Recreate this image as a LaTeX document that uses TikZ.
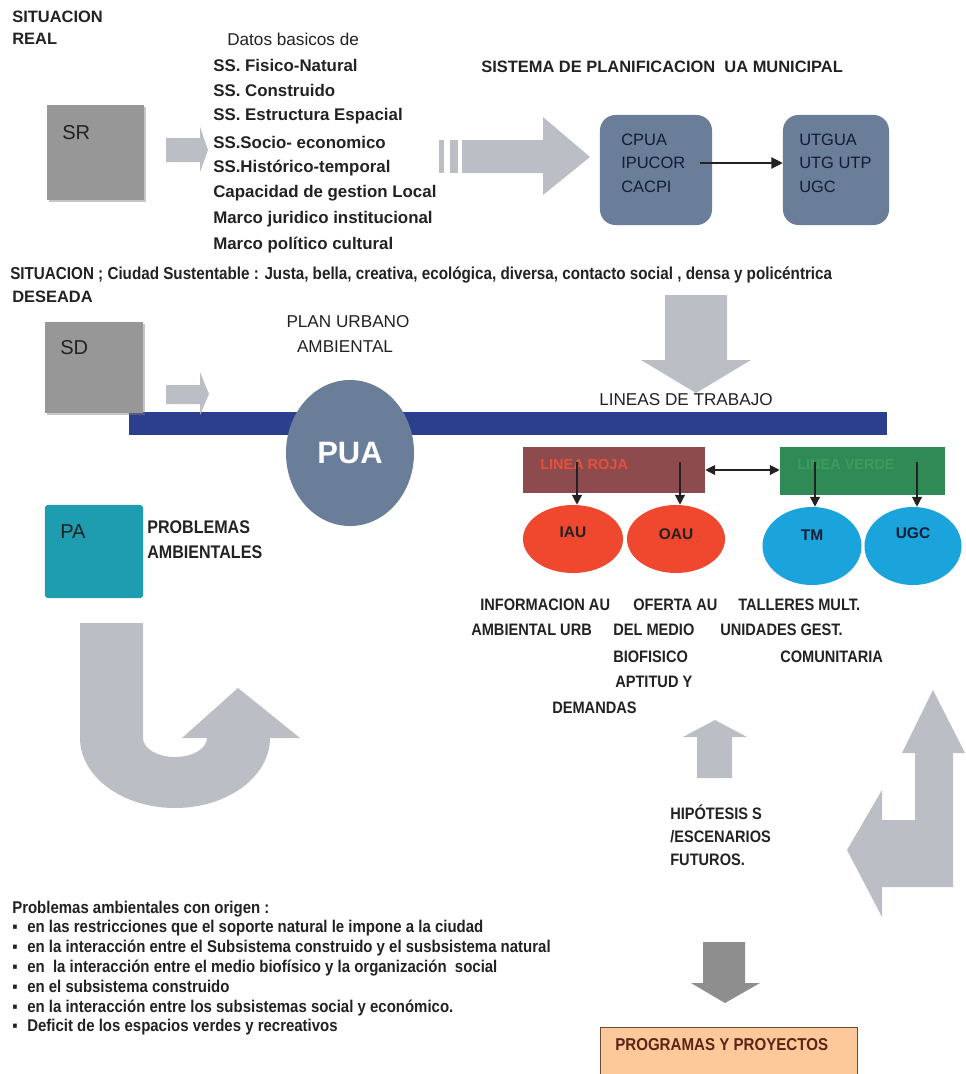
\documentclass[tikz,border=0pt]{standalone}
\usepackage{fontspec}
\setmainfont{Liberation Sans}
\newfontfamily\narrowfont[FakeStretch=0.88]{Liberation Sans}
\usepackage{xcolor}
\usetikzlibrary{arrows.meta,shapes.geometric,shadows}

\definecolor{ink}{HTML}{222222}
\definecolor{navyink}{HTML}{141C33}
\definecolor{boxgray}{HTML}{979797}
\definecolor{arrowgray}{HTML}{BBBEC4}
\definecolor{arrowdark}{HTML}{8E8E8E}
\definecolor{slate}{HTML}{6A7D99}
\definecolor{barblue}{HTML}{2B3F8E}
\definecolor{pateal}{HTML}{1E9CB0}
\definecolor{rojabox}{HTML}{8E4B4D}
\definecolor{rojaink}{HTML}{E8503C}
\definecolor{verdebox}{HTML}{2F8A55}
\definecolor{verdeink}{HTML}{3A9C5E}
\definecolor{redoval}{HTML}{F0472F}
\definecolor{blueoval}{HTML}{1BA3DC}
\definecolor{peach}{HTML}{FDC99A}
\definecolor{peachline}{HTML}{6B4A35}
\definecolor{progink}{HTML}{5A2418}

\begin{document}
\begin{tikzpicture}[x=0.025cm, y=-0.025cm, >={Triangle[length=7pt,width=7pt]},
  txt/.style={inner sep=0pt, anchor=west, text=ink},
  head/.style={txt, font=\bfseries\fontsize{11.7}{14}\selectfont},
  dato/.style={txt, font=\bfseries\fontsize{12}{14}\selectfont},
  plain/.style={txt, font=\fontsize{12.2}{14}\selectfont},
  narrow/.style={txt, font=\narrowfont\bfseries\fontsize{11.8}{14}\selectfont},
  origin/.style={txt, anchor=base west, font=\narrowfont\bfseries\fontsize{12.1}{14}\selectfont},
  tag/.style={txt, font=\fontsize{14.3}{16}\selectfont},
  codes/.style={txt, text=navyink, font=\fontsize{11.7}{14}\selectfont},
  block/.style={rectangle, inner sep=0pt, fill=boxgray,
    drop shadow={shadow xshift=1.5pt, shadow yshift=-1.5pt, opacity=.45}},
  slatebox/.style={rectangle, rounded corners=11pt, inner sep=0pt, fill=slate, minimum height=2.75cm},
  linebox/.style={rectangle, inner sep=0pt},
  oval/.style={ellipse, inner sep=0pt},
  ovaltext/.style={inner sep=0pt, text=ink, font=\bfseries\fontsize{11}{13}\selectfont},
  bigarrow/.style={fill=arrowgray},
  link/.style={->, line width=0.9pt, draw=ink}]

  \useasboundingbox (0,0) rectangle (966,1074);
  \clip (0,0) rectangle (966,1074);

  \node[head] (sitreal) at (12,17) {SITUACION};
  \node[head] (real) at (12,39) {REAL};
  \node[block, minimum width=2.425cm, minimum height=2.375cm] (sr) at (95.5,152.5) {};
  \node[tag] (srtag) at (62,133) {SR};
  \fill[bigarrow] (166,138) -- (200,138) -- (200,127) -- (208,150) -- (200,172) -- (200,162) -- (166,162) -- cycle;

  \node[plain] (datos) at (227,39) {Datos basicos de};
  \foreach \t [count=\i from 0] in {SS. Fisico-Natural, SS. Construido, SS. Estructura Espacial,
      SS.Socio- economico, SS.Histórico-temporal, Capacidad de gestion Local,
      Marco juridico institucional, Marco político cultural}
    \node[dato] (dato\i) at (213,65+25.7*\i) {\t};

  \fill[bigarrow] (439,140) rectangle (444,173);
  \fill[bigarrow] (450,140) rectangle (458,173);
  \fill[bigarrow] (462,140) -- (543,140) -- (543,117) -- (590,157) -- (543,195) -- (543,173) -- (462,173) -- cycle;

  \node[head] (sistema) at (481,67) {SISTEMA DE PLANIFICACION\ \ UA MUNICIPAL};
  \node[slatebox, minimum width=2.8cm] (cpua) at (656,170) {};
  \node[codes] (cpuatxt) at (621,140) {CPUA};
  \node[codes] (ipucor) at (621,163) {IPUCOR};
  \node[codes] (cacpi) at (621,187) {CACPI};
  \node[slatebox, minimum width=2.65cm] (utgua) at (836,170) {};
  \node[codes] (utguatxt) at (799,140) {UTGUA};
  \node[codes] (utgutp) at (799,163) {UTG UTP};
  \node[codes] (ugctxt) at (799,187) {UGC};
  \draw[link, >={Triangle[length=8pt,width=8pt]}, shorten <=10pt] (ipucor.east) -- (ipucor.east -| utgua.west);

  \node[txt, font=\narrowfont\bfseries\fontsize{12.3}{14}\selectfont] (deseo) at (10,275)
    {SITUACION ; Ciudad Sustentable : Justa, bella, creativa, ecológica, diversa, contacto social , densa y policéntrica};
  \node[head] (deseada) at (12,297) {DESEADA};

  \fill[bigarrow] (665,295) -- (727,295) -- (727,360) -- (751,360) -- (696,393) -- (641,360) -- (665,360) -- cycle;
  \node[plain, anchor=center] (lineas) at (686,400) {LINEAS DE TRABAJO};

  \node[linebox, fill=barblue, minimum width=18.95cm, minimum height=0.575cm] (barra) at (508,423.5) {};
  \node[block, minimum width=2.45cm, minimum height=2.275cm] (sd) at (94,367.5) {};
  \node[tag] (sdtag) at (60,348) {SD};
  \fill[bigarrow] (166,385) -- (200,385) -- (200,372) -- (209,394) -- (200,415) -- (200,404) -- (166,404) -- cycle;

  \node[plain, anchor=center] (plan) at (348,322) {PLAN URBANO};
  \node[plain, anchor=center] (ambiental) at (345,347) {AMBIENTAL};
  \node[ellipse, inner sep=0pt, fill=slate, minimum width=3.2cm, minimum height=3.65cm, text=white,
    font=\bfseries\fontsize{22}{24}\selectfont] (pua) at (350,453) {PUA};

  \node[linebox, fill=rojabox, minimum width=4.55cm, minimum height=1.15cm] (roja) at (614,470) {};
  \node[txt, text=rojaink, font=\bfseries\fontsize{10.3}{12}\selectfont] (rojalbl) at (540,465) {LINEA ROJA};
  \node[linebox, fill=verdebox, minimum width=4.125cm, minimum height=1.2cm] (verde) at (862.5,471) {};
  \node[txt, text=verdeink, font=\bfseries\fontsize{10.3}{12}\selectfont] (verdelbl) at (797,465) {LINEA VERDE};
  \draw[link, <->] (roja.east) -- (roja.east -| verde.west);

  \node[oval, fill=redoval, minimum width=2.5cm, minimum height=1.7cm] (iau) at (573,539) {};
  \node[oval, fill=redoval, minimum width=2.45cm, minimum height=1.7cm] (oau) at (676,539) {};
  \node[oval, fill=blueoval, minimum width=2.475cm, minimum height=1.95cm] (tm) at (812,546) {};
  \node[oval, fill=blueoval, minimum width=2.425cm, minimum height=1.95cm] (ugc) at (913,546) {};
  \node[ovaltext] (iaulbl) at (573,532) {IAU};
  \node[ovaltext] (oaulbl) at (676,534) {OAU};
  \node[ovaltext, text=navyink] (tmlbl) at (812,535) {TM};
  \node[ovaltext, text=navyink] (ugclbl) at (913,533) {UGC};

  \coordinate (r1) at (577,462);
  \coordinate (r2) at (680,462);
  \coordinate (v1) at (815,462);
  \coordinate (v2) at (917,462);
  \draw[link] (r1) -- (r1 |- iau.north);
  \draw[link] (r2) -- (r2 |- oau.north);
  \draw[link] (v1) -- (v1 |- tm.north);
  \draw[link] (v2) -- (v2 |- ugc.north);

  \node[narrow] (info1) at (480,605) {INFORMACION AU};
  \node[narrow] (info2) at (471,630) {AMBIENTAL URB};
  \node[narrow] (oferta1) at (633,605) {OFERTA AU};
  \node[narrow] (oferta2) at (613,630) {DEL MEDIO};
  \node[narrow] (oferta3) at (613,657) {BIOFISICO};
  \node[narrow] (oferta4) at (615,682) {APTITUD Y};
  \node[narrow] (oferta5) at (552,708) {DEMANDAS};
  \node[narrow] (taller1) at (738,605) {TALLERES MULT.};
  \node[narrow] (taller2) at (720,630) {UNIDADES GEST.};
  \node[narrow] (taller3) at (780,657) {COMUNITARIA};

  \node[linebox, fill=pateal, rounded corners=2pt, minimum width=2.45cm, minimum height=2.325cm] (pa) at (94,551.5) {};
  \node[tag] (patag) at (60,532) {PA};
  \node[narrow, font=\narrowfont\bfseries\fontsize{13}{15}\selectfont] (probl) at (147,527) {PROBLEMAS};
  \node[narrow, font=\narrowfont\bfseries\fontsize{13}{15}\selectfont] (ambient) at (147,552) {AMBIENTALES};

  \fill[bigarrow] (80,623) -- (143,623) -- (143,738) arc[start angle=180, end angle=0, x radius=32, y radius=19]
    -- (182,738) -- (238,688) -- (300,738) -- (270,738) arc[start angle=0, end angle=180, x radius=95, y radius=70] -- cycle;

  \fill[bigarrow] (697,778) -- (697,737) -- (683,737) -- (715,720) -- (747,737) -- (732,737) -- (732,778) -- cycle;
  \node[narrow] (hipo1) at (670,812) {HIPÓTESIS S};
  \node[narrow] (hipo2) at (670,837) {/ESCENARIOS};
  \node[narrow] (hipo3) at (670,860) {FUTUROS.};

  \fill[bigarrow] (933,690) -- (965,753) -- (953,753) -- (953,887) -- (882,887) -- (882,917) -- (847,850)
    -- (882,790) -- (882,820) -- (915,820) -- (915,753) -- (902,753) -- cycle;

  \fill[arrowdark] (703,942) -- (745,942) -- (745,983) -- (760,983) -- (725,1003) -- (691,983) -- (703,983) -- cycle;
  \node[linebox, fill=peach, draw=peachline, line width=0.6pt, minimum width=6.425cm, minimum height=1.575cm] (prog) at (728.5,1058.5) {};
  \node[narrow, text=progink, font=\narrowfont\bfseries\fontsize{12.2}{14}\selectfont] (progtxt) at (615,1045) {PROGRAMAS Y PROYECTOS};

  \node[origin] (origen) at (12,913) {Problemas ambientales con origen :};
  \foreach \t [count=\i] in {en las restricciones que el soporte natural le impone a la ciudad,
      en la interacción entre el Subsistema construido y el susbsistema natural,
      en\ \ la interacción entre el medio biofísico y la organización\ \ social,
      en el subsistema construido,
      en la interacción entre los subsistemas social y económico.,
      Deficit de los espacios verdes y recreativos} {
    \node[origin] (bul\i) at (12,913+19.8*\i) {▪};
    \node[origin] (ori\i) at (27,913+19.8*\i) {\t};
  }
\end{tikzpicture}
\end{document}
